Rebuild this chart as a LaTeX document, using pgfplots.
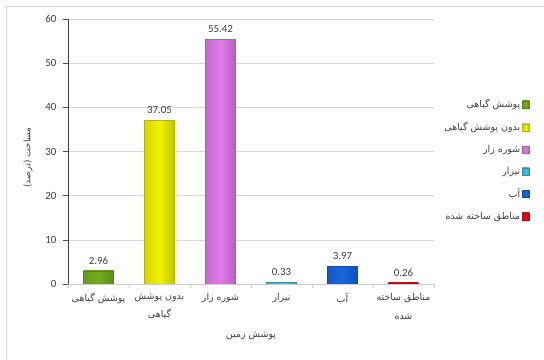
\documentclass[border=0pt]{standalone}
\usepackage{fontspec}
\setmainfont{Carlito}
\newfontfamily\fa[Script=Arabic]{DejaVu Sans}
\TeXXeTstate=1
\usepackage{pgfplots}
\pgfplotsset{compat=1.18}
\definecolor{cgreen}{HTML}{72AE1E}
\definecolor{cyellow}{HTML}{F2F200}
\definecolor{cviolet}{HTML}{E07AEA}
\definecolor{ccyan}{HTML}{3EC4E6}
\definecolor{cblue}{HTML}{1766E0}
\definecolor{cred}{HTML}{E0101E}
\definecolor{txt}{HTML}{404040}
\pgfplotsset{mybar/.style={left color=#1!88!black, right color=#1!80!black, middle color=#1, draw=#1!75!black, line width=0.3bp}}
\begin{document}
\begin{tikzpicture}
\path[use as bounding box] (0,0) rectangle (544bp,360bp);
\draw[black!15, line width=0.6bp] (6bp,0) -- (6bp,354bp) -- (544bp,354bp);
\begin{axis}[
  at={(68bp,76bp)}, anchor=south west,
  scale only axis, width=366bp, height=265bp,
  xmin=-0.5, xmax=5.5, ymin=0, ymax=60,
  ytick={0,10,...,60},
  xtick={0,...,5},
  xticklabels={
    {\beginR پوشش گیاهی\endR},
    {\beginR بدون پوشش\endR\\\beginR گیاهی\endR},
    {\beginR شوره زار\endR},
    {\beginR نیزار\endR},
    {\beginR آب\endR},
    {\beginR مناطق ساخته\endR\\\beginR شده\endR}},
  minor xtick={-0.5,0.5,...,5.5},
  major x tick style={draw=none},
  minor x tick style={draw=black!20, line width=0.5bp},
  minor tick length=4bp,
  major tick length=5bp,
  tick align=outside,
  y tick style={draw=black!70, line width=0.5bp},
  axis x line*=bottom, axis y line*=left,
  x axis line style={draw=black!20, line width=0.6bp, -},
  y axis line style={draw=black!75, line width=0.6bp, -},
  ymajorgrids, major grid style={draw=black!15, line width=0.5bp},
  /pgf/number format/assume math mode=true,
  yticklabel style={font=\fontsize{11}{12}\selectfont, text=txt, xshift=-3bp},
  xticklabel style={font=\fa\fontsize{9.5}{19}\selectfont, text=txt, align=center, yshift=-1bp},
  xlabel={\fa\beginR پوشش زمین\endR},
  xlabel style={font=\fa\fontsize{9.5}{10}\selectfont, text=txt, yshift=-5bp},
  ylabel={\fa\beginR مساحت (درصد)\endR},
  ylabel style={font=\fa\fontsize{9}{10}\selectfont, text=txt, yshift=6bp, xshift=-6bp},
  ybar, bar width=30bp, bar shift=0pt,
  nodes near coords={\pgfmathprintnumber[fixed,fixed zerofill,precision=2,assume math mode=true]{\pgfplotspointmeta}},
  nodes near coords style={font=\fontsize{11}{12}\selectfont, text=txt, yshift=3bp},
  legend style={at={(1.27,0.468)}, anchor=east, draw=none, fill=none,
    font=\fa\fontsize{9.5}{11}\selectfont, text=txt, row sep=9bp,
    cells={anchor=east}},
  legend plot pos=right,
  legend image code/.code={\draw[#1, line width=0.4bp] (0bp,-3.5bp) rectangle (7bp,3.5bp);},
]
\addplot[mybar=cgreen] coordinates {(0,2.96)};
\addlegendentry{\beginR پوشش گیاهی\endR}
\addplot[mybar=cyellow] coordinates {(1,37.05)};
\addlegendentry{\beginR بدون پوشش گیاهی\endR}
\addplot[mybar=cviolet] coordinates {(2,55.42)};
\addlegendentry{\beginR شوره زار\endR}
\addplot[mybar=ccyan] coordinates {(3,0.33)};
\addlegendentry{\beginR نیزار\endR}
\addplot[mybar=cblue] coordinates {(4,3.97)};
\addlegendentry{\beginR آب\endR}
\addplot[mybar=cred] coordinates {(5,0.26)};
\addlegendentry{\beginR مناطق ساخته شده\endR}
\end{axis}
\end{tikzpicture}
\end{document}
